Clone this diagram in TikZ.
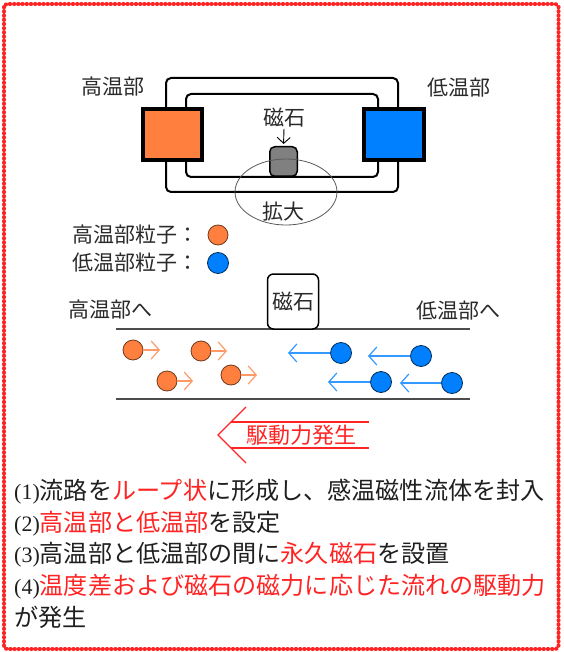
\documentclass[tikz,border=0pt]{standalone}
\usepackage{fontspec}
\newfontfamily\jp{Noto Sans CJK JP}
\newfontfamily\numfont{Liberation Serif}
\usetikzlibrary{arrows.meta}
\definecolor{hot}{HTML}{FF7F3F}
\definecolor{cold}{HTML}{0080FF}
\definecolor{hotarr}{HTML}{FF9A66}
\definecolor{coldarr}{HTML}{3399FF}
\definecolor{myred}{HTML}{FF2424}
\definecolor{lbl}{HTML}{2A2A2A}
\newcommand\itemno[1]{{\numfont\fontsize{22}{31}\selectfont(#1)}}
\newcommand\redtxt[1]{\textcolor{myred}{#1}}
\begin{document}
\begin{tikzpicture}[x=1pt,y=-1pt,
  lab/.style={font=\jp\fontsize{21}{24}\selectfont, text=lbl, inner sep=0pt},
  body/.style={font=\jp\fontsize{24.1}{31}\selectfont, text=black!88, inner sep=0pt, anchor=base west},
  loopline/.style={draw=black, line width=2pt, rounded corners=5pt},
  heatbox/.style={draw=black, line width=4pt, minimum height=51pt, inner sep=0pt},
  hotp/.style={circle, draw=hot!45!black, fill=hot, minimum size=20pt, inner sep=0pt, line width=0.8pt},
  coldp/.style={circle, draw=cold!35!black, fill=cold, minimum size=21pt, inner sep=0pt, line width=0.8pt},
  harr/.style={draw=hotarr, line width=1.2pt, -{Straight Barb[length=8pt,width=18pt]}},
  carr/.style={draw=coldarr, line width=1.2pt, -{Straight Barb[length=8pt,width=18pt]}},
  chan/.style={draw=black!70, line width=2pt},
  bigarr/.style={draw=myred, line width=1.3pt}
]
\useasboundingbox (0,0) rectangle (563,652);
% border
\draw[myred, line width=4pt, dash pattern=on 0.4pt off 3.8pt, line cap=round, rounded corners=3pt] (4,4) rectangle (558.5,649);

% loop
\draw[loopline] (166,78) rectangle (398,192);
\draw[loopline] (186,94) rectangle (378,177);
\node[heatbox, fill=hot, minimum width=59pt] (hotbox) at (172.5,134.5) {};
\node[heatbox, fill=cold, minimum width=60pt] (coldbox) at (394,134.5) {};
\node[draw=black, line width=1.5pt, fill=black!50, rounded corners=5pt, minimum width=27.5pt, minimum height=29.5pt, inner sep=0pt] (mag) at (283.5,161.5) {};
\draw[black!65, line width=0.8pt] (286,192) ellipse [x radius=51pt, y radius=33pt];
\node[lab] (maglab) at (284,118) {磁石};
\draw[line width=0.9pt, -{Straight Barb[length=6pt,width=13pt]}, shorten >=2pt, shorten <=1pt] (maglab.south) -- (mag.north);
\node[lab] (zoomlab) at (283,212) {拡大};
\node[lab] (hotlab) at (113,87) {高温部};
\node[lab] (coldlab) at (459,88) {低温部};

% legend
\node[lab, anchor=west] (leghot) at (72,235) {高温部粒子：};
\node[hotp] (leghotc) at (218,235) {};
\node[lab, anchor=west] (legcold) at (72,263) {低温部粒子：};
\node[coldp] (legcoldc) at (218,263) {};

% channel
\node[lab] (tohot) at (110,310) {高温部へ};
\node[lab] (tocold) at (458,311) {低温部へ};
\coordinate (tl) at (116,329);
\coordinate (tr) at (470,329);
\coordinate (bl) at (116,399);
\coordinate (br) at (470,399);
\draw[chan] (tl) -- (tr);
\draw[chan] (bl) -- (br);
\node[draw=black, line width=1.5pt, fill=white, rounded corners=6pt, minimum width=51pt, minimum height=55pt, inner sep=0pt, lab] (magbox) at (293,301.5) {磁石};

% hot particles
\node[hotp] (p1) at (133,350) {};
\node[hotp] (p2) at (201,351) {};
\node[hotp] (p3) at (167,381) {};
\node[hotp] (p4) at (231,375) {};
\coordinate (pa1) at (160,350);
\coordinate (pa2) at (227,351);
\coordinate (pa3) at (193,381);
\coordinate (pa4) at (257,375);
\draw[harr] (p1.east) -- (pa1);
\draw[harr] (p2.east) -- (pa2);
\draw[harr] (p3.east) -- (pa3);
\draw[harr] (p4.east) -- (pa4);

% cold particles
\node[coldp] (b1) at (341,353) {};
\node[coldp] (b2) at (421,356) {};
\node[coldp] (b3) at (381,382) {};
\node[coldp] (b4) at (452,383) {};
\coordinate (ba1) at (288,353);
\coordinate (ba2) at (368,356);
\coordinate (ba3) at (328,382);
\coordinate (ba4) at (400,383);
\draw[carr] (b1.west) -- (ba1);
\draw[carr] (b2.west) -- (ba2);
\draw[carr] (b3.west) -- (ba3);
\draw[carr] (b4.west) -- (ba4);

% driving force arrow
\coordinate (tip) at (218,435);
\coordinate (cu) at (246,407);
\coordinate (cl) at (246,463);
\coordinate (su) at (231,422);
\coordinate (sl) at (231,448);
\coordinate (eu) at (369,422);
\coordinate (el) at (369,448);
\draw[bigarr] (cu) -- (tip) -- (cl);
\draw[bigarr] (su) -- (eu);
\draw[bigarr] (sl) -- (el);
\node[lab, text=myred, font=\jp\fontsize{22}{24}\selectfont] (force) at (301,435) {駆動力発生};

% text
\node[body] (l1) at (14,499) {\itemno{1}流路を\redtxt{ループ状}に形成し、感温磁性流体を封入};
\node[body] (l2) at (14,531) {\itemno{2}\redtxt{高温部と低温部}を設定};
\node[body] (l3) at (14,562) {\itemno{3}高温部と低温部の間に\redtxt{永久磁石}を設置};
\node[body] (l4) at (14,594) {\itemno{4}\redtxt{温度差および磁石の磁力に応じた流れの駆動力}};
\node[body] (l5) at (14,626) {が発生};
\end{tikzpicture}
\end{document}
